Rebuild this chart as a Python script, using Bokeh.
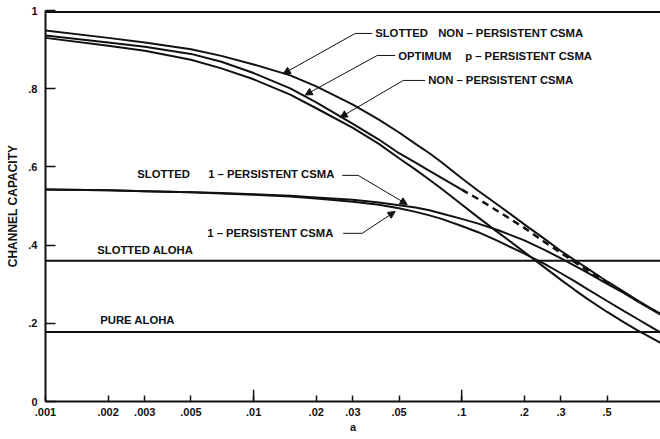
from bokeh.plotting import figure
from bokeh.models import Span, Arrow, NormalHead, FixedTicker, CustomJSTickFormatter
from bokeh.core.properties import value
from bokeh.embed import file_html
from bokeh.resources import INLINE

# ---------------- data ----------------
a_vals = [0.001, 0.002, 0.003, 0.005, 0.007, 0.01, 0.015, 0.02, 0.03, 0.04, 0.05,
          0.06, 0.07, 0.08, 0.1, 0.12, 0.15, 0.2, 0.25, 0.3, 0.35, 0.4, 0.5,
          0.6, 0.7, 0.8, 1.0]

slotted_np = [0.949, 0.930, 0.918, 0.901, 0.884, 0.862, 0.834, 0.806, 0.759, 0.721, 0.688,
              0.659, 0.635, 0.612, 0.571, 0.539, 0.502, 0.453, 0.416, 0.385, 0.361, 0.341, 0.307,
              0.281, 0.259, 0.240, 0.211]

nonpersistent = [0.930, 0.910, 0.897, 0.874, 0.852, 0.824, 0.785, 0.750, 0.700, 0.659, 0.622,
                 0.593, 0.567, 0.544, 0.504, 0.471, 0.432, 0.382, 0.343, 0.311, 0.285, 0.263, 0.229,
                 0.203, 0.182, 0.165, 0.137]

one_persistent = [0.542, 0.540, 0.538, 0.535, 0.532, 0.529, 0.524, 0.519, 0.511, 0.503, 0.494,
                  0.485, 0.476, 0.467, 0.449, 0.433, 0.410, 0.378, 0.352, 0.328, 0.307, 0.288, 0.257,
                  0.232, 0.211, 0.193, 0.162]

slotted_one_persistent = [0.542, 0.540, 0.538, 0.535, 0.533, 0.530, 0.526, 0.522, 0.516, 0.509, 0.502,
                          0.496, 0.489, 0.481, 0.467, 0.455, 0.438, 0.412, 0.388, 0.366, 0.347, 0.330, 0.301,
                          0.278, 0.256, 0.238, 0.209]

opt_p_a_solid = [0.001, 0.002, 0.003, 0.005, 0.007, 0.01, 0.015, 0.02, 0.03, 0.04, 0.05,
                 0.06, 0.07, 0.08, 0.1]
opt_p_solid = [0.936, 0.918, 0.907, 0.889, 0.869, 0.840, 0.801, 0.765, 0.710, 0.670, 0.635,
               0.611, 0.590, 0.572, 0.542]
opt_p_a_dashed = [0.1, 0.12, 0.15, 0.2, 0.25, 0.3, 0.35, 0.4, 0.5, 0.52]
opt_p_dashed = [0.542, 0.518, 0.486, 0.444, 0.408, 0.380, 0.356, 0.336, 0.304, 0.298]

aloha_range = [0.001, 1.0]
slotted_aloha = [0.360, 0.360]
pure_aloha = [0.178, 0.178]

x_ticks = [0.001, 0.002, 0.003, 0.005, 0.01, 0.02, 0.03, 0.05, 0.1, 0.2, 0.3, 0.5]
x_long_ticks = [0.01, 0.1]
y_ticks = [0, 0.2, 0.4, 0.6, 0.8, 1.0]

# ---------------- figure ----------------
FONT = "Liberation Sans"
INK = "#111111"

p = figure(width=660, height=439, x_axis_type="log",
           x_range=(0.001, 0.9022), y_range=(0, 1),
           output_backend="svg", toolbar_location=None,
           min_border_left=45, min_border_right=0, min_border_top=10, min_border_bottom=38)
p.background_fill_color = "white"
p.border_fill_color = "white"
p.outline_line_color = None
p.xgrid.visible = False
p.ygrid.visible = False

for ax in (p.xaxis[0], p.yaxis[0]):
    ax.axis_line_width = 2
    ax.axis_line_color = INK
    ax.major_tick_line_color = INK
    ax.major_tick_line_width = 1.5
    ax.minor_tick_line_color = None
    ax.major_label_text_font = FONT
    ax.major_label_text_font_style = "bold"
    ax.major_label_text_font_size = "11px"
    ax.major_label_text_color = INK
    ax.major_tick_out = 0
    ax.axis_label_text_font = FONT
    ax.axis_label_text_font_style = "bold"
    ax.axis_label_text_color = INK

p.xaxis.ticker = FixedTicker(ticks=x_ticks)
p.xaxis.major_tick_in = 6
p.xaxis.major_label_standoff = 6
p.xaxis.formatter = CustomJSTickFormatter(code="return tick.toString().replace(/^0\\./, '.');")
p.xaxis.axis_label = "a"
p.xaxis.axis_label_text_font_size = "11px"
p.xaxis.axis_label_standoff = 2

p.yaxis.ticker = FixedTicker(ticks=y_ticks)
p.yaxis.major_tick_in = 10
p.yaxis.major_label_standoff = 8
p.yaxis.formatter = CustomJSTickFormatter(
    code="if (tick >= 1) {return '1';} if (tick == 0) {return '0';} return tick.toFixed(1).replace(/^0\\./, '.');")
p.yaxis.axis_label = "CHANNEL CAPACITY"
p.yaxis.axis_label_text_font_size = "12px"
p.yaxis.axis_label_standoff = 5

# top rule of the frame
p.add_layout(Span(location=0.996, dimension="width", line_color=INK, line_width=2))

# longer decade ticks on the a axis
p.segment(x0=x_long_ticks, y0=[0] * len(x_long_ticks), x1=x_long_ticks, y1=[0.03] * len(x_long_ticks),
          line_color=INK, line_width=1.5)

# ---------------- curves ----------------
LW = 2
p.line(aloha_range, slotted_aloha, line_color=INK, line_width=LW)
p.line(aloha_range, pure_aloha, line_color=INK, line_width=LW)
p.line(a_vals, slotted_np, line_color=INK, line_width=LW)
p.line(a_vals, nonpersistent, line_color=INK, line_width=LW)
p.line(a_vals, one_persistent, line_color=INK, line_width=LW)
p.line(a_vals, slotted_one_persistent, line_color=INK, line_width=LW)
p.line(opt_p_a_solid, opt_p_solid, line_color=INK, line_width=LW)
p.line(opt_p_a_dashed, opt_p_dashed, line_color=INK, line_width=2.5, line_dash="7 5")

# ---------------- labels with leaders ----------------
lab_x = [0.03839, 0.0771, 0.04952, 0.1039, 0.06902, 0.002759, 0.006051, 0.005985, 0.001772, 0.001832]
lab_y = [0.9413, 0.9413, 0.8837, 0.8837, 0.8211, 0.5809, 0.5809, 0.4301, 0.3879, 0.2078]
lab_t = ["SLOTTED", "NON \u2013 PERSISTENT CSMA", "OPTIMUM", "p \u2013 PERSISTENT CSMA",
         "NON \u2013 PERSISTENT CSMA", "SLOTTED", "1 \u2013 PERSISTENT CSMA",
         "1 \u2013 PERSISTENT CSMA", "SLOTTED ALOHA", "PURE ALOHA"]
p.text(x=lab_x, y=lab_y, text=lab_t, text_font=value(FONT), text_font_style="bold",
       text_font_size="11.3px", text_color=INK, text_baseline="middle", text_align="left")

# leaders: elbow point, text-side end of the short horizontal, arrow tip
leaders = [
    (0.03077, 0.9413, 0.03714, 0.01388, 0.8382),
    (0.03926, 0.8850, 0.04791, 0.01770, 0.7840),
    (0.05235, 0.8211, 0.06677, 0.02607, 0.7266),
    (0.03181, 0.5783, 0.02665, 0.05470, 0.5040),
    (0.03324, 0.4301, 0.02694, 0.04790, 0.4860),
]
for ex, ey, tx, ax_, ay in leaders:
    p.add_layout(Arrow(x_start=tx, y_start=ey, x_end=ex, y_end=ey, end=None,
                       line_color=INK, line_width=1))
    p.add_layout(Arrow(x_start=ex, y_start=ey, x_end=ax_, y_end=ay,
                       end=NormalHead(size=7, fill_color=INK, line_color=INK, line_width=1),
                       line_color=INK, line_width=1))

open("out.html", "w").write(file_html(p, INLINE))
